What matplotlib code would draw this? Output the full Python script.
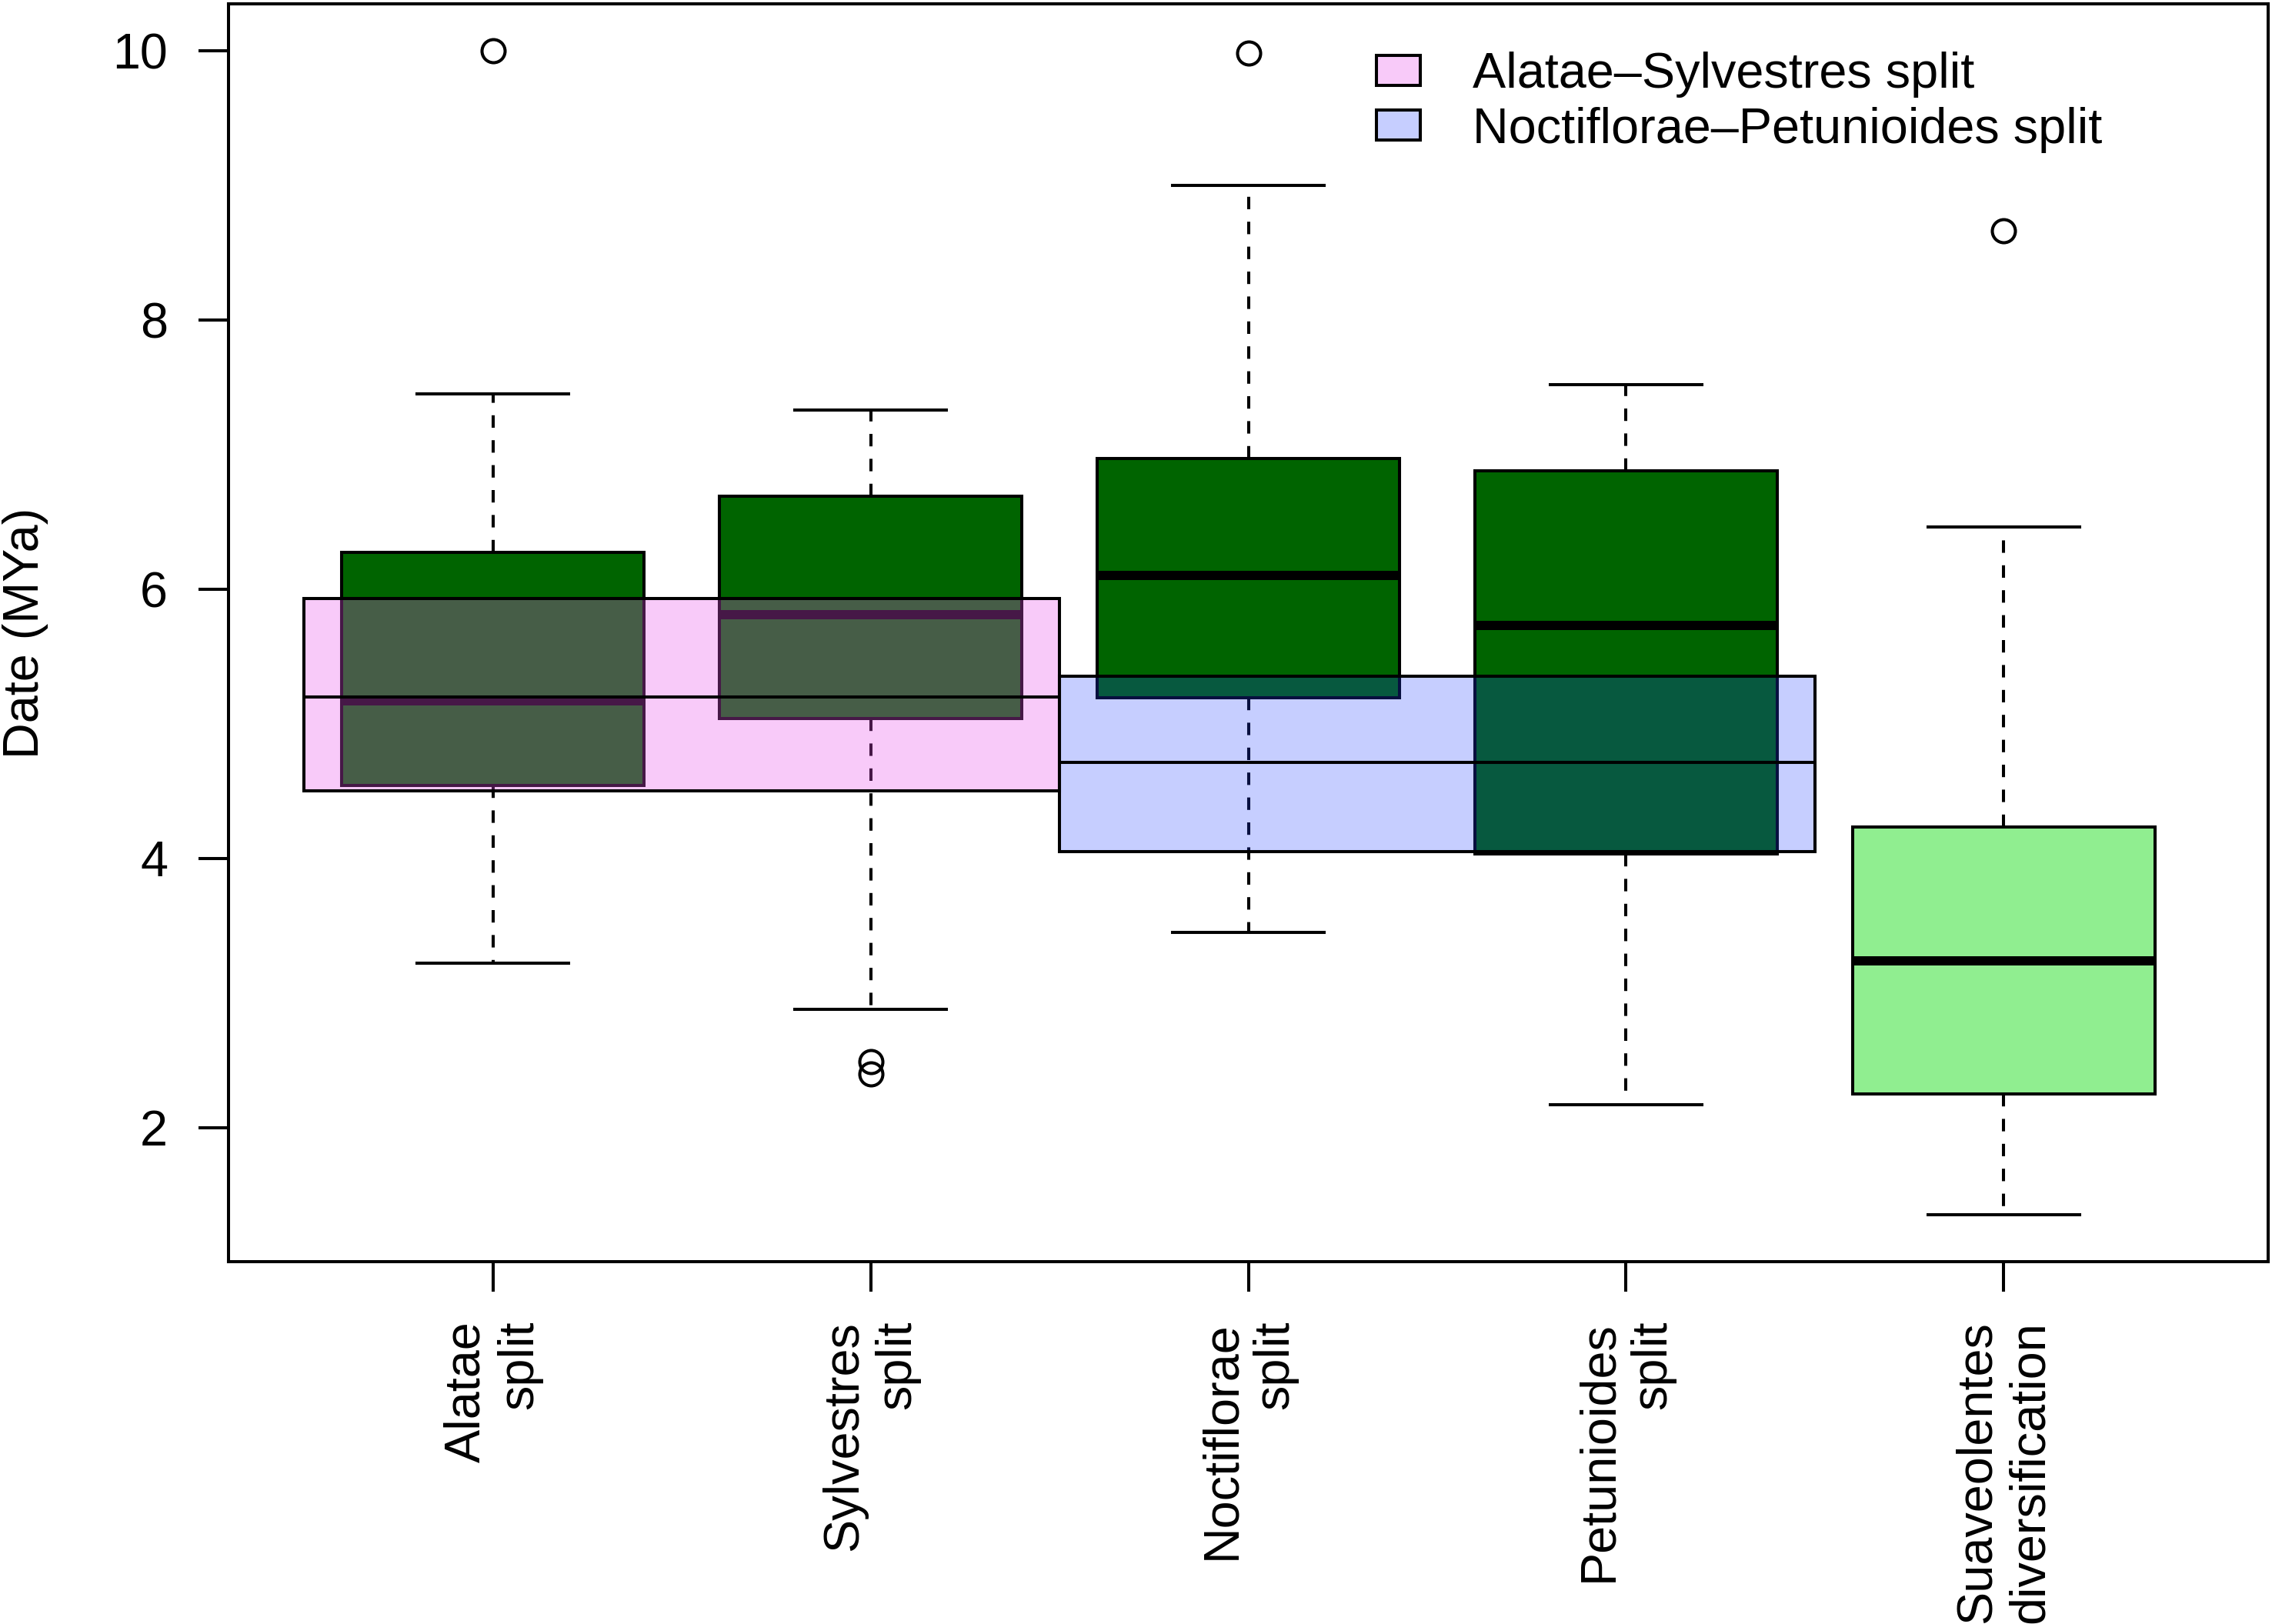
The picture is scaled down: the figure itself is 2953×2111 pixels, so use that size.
import matplotlib
matplotlib.use("Agg")
import matplotlib.pyplot as plt
from matplotlib.patches import Rectangle, Patch

# ---------------- data ----------------
categories = ["Alatae\nsplit", "Sylvestres\nsplit", "Noctiflorae\nsplit",
              "Petunioides\nsplit", "Suaveolentes\ndiversification"]
whisker_low = [3.22, 2.88, 3.45, 2.17, 1.35]
q1 = [4.54, 5.04, 5.19, 4.03, 2.25]
medians = [5.17, 5.81, 6.10, 5.73, 3.24]
q3 = [6.27, 6.69, 6.97, 6.88, 4.23]
whisker_high = [7.45, 7.33, 9.00, 7.52, 6.46]
outliers = [[10.0], [2.49, 2.40], [9.98], [], [8.66]]
box_colors = ["darkgreen", "darkgreen", "darkgreen", "darkgreen", "lightgreen"]

split_labels = ["Alatae\u2013Sylvestres split", "Noctiflorae\u2013Petunioides split"]
split_first = [1, 3]     # first category covered
split_last = [2, 4]      # last category covered
split_low = [4.50, 4.05]
split_mid = [5.20, 4.71]
split_high = [5.93, 5.35]
split_colors = [(235/255, 80/255, 238/255, 0.30), (30/255, 60/255, 255/255, 0.25)]

yticks = [2, 4, 6, 8, 10]
ylabel = "Date (MYa)"

# ---------------- style ----------------
plt.rcParams["font.family"] = ["Liberation Sans", "DejaVu Sans"]
W, H, DPI = 2953, 2111, 300
PX = 72 / DPI            # points per pixel
FS = 64.8 * PX           # font size
LW = 4.05 * PX           # R lwd=1
MLW = 12.0 * PX          # R lwd=3

fig = plt.figure(figsize=(W / DPI, H / DPI), dpi=DPI)
ax = fig.add_axes([297 / W, 1 - 1640 / H, (2948 - 297) / W, (1640 - 5) / H])

positions = list(range(1, len(categories) + 1))
stats = []
for i, cat in enumerate(categories):
    stats.append(dict(whislo=whisker_low[i], q1=q1[i], med=medians[i], q3=q3[i],
                      whishi=whisker_high[i], fliers=outliers[i], label=cat))

bp = ax.bxp(stats, positions=positions, widths=0.8, capwidths=0.4,
            patch_artist=True, showfliers=True,
            boxprops=dict(edgecolor="black", linewidth=LW),
            whiskerprops=dict(color="black", linewidth=LW, linestyle=(0, (4, 4))),
            capprops=dict(color="black", linewidth=LW),
            medianprops=dict(color="black", linewidth=MLW, solid_capstyle="butt"),
            flierprops=dict(marker="o", markerfacecolor="none", markeredgecolor="black",
                            markersize=30 * PX, markeredgewidth=LW, linestyle="none"))
for patch, c in zip(bp["boxes"], box_colors):
    patch.set_facecolor(c)

# translucent split-date bands on top of the boxes
handles = []
for lab, f, l, lo, mid, hi, col in zip(split_labels, split_first, split_last,
                                        split_low, split_mid, split_high, split_colors):
    x0, x1 = f - 0.5, l + 0.5
    ax.add_patch(Rectangle((x0, lo), x1 - x0, hi - lo, facecolor=col,
                           edgecolor="black", linewidth=LW, zorder=3))
    ax.hlines(mid, x0, x1, colors="black", linewidth=LW, zorder=3.1)
    handles.append(Patch(facecolor=col, edgecolor="black", linewidth=LW))

# axis limits like R (4% extension)
all_vals = whisker_low + whisker_high + [v for o in outliers for v in o]
lo_v, hi_v = min(all_vals), max(all_vals)
pad = 0.04 * (hi_v - lo_v)
ax.set_ylim(lo_v - pad, hi_v + pad)
n = len(categories)
ax.set_xlim(0.5 - 0.04 * n, n + 0.5 + 0.04 * n)

ax.set_yticks(yticks)
ax.set_yticklabels([str(t) for t in yticks])
ax.set_xticks(positions)
ax.set_xticklabels(categories, rotation=90, ha="center", va="top")
for t in ax.get_xticklabels():
    t.set_multialignment("right")

ax.tick_params(axis="both", direction="out", length=39 * PX, width=LW,
               labelsize=FS, colors="black")
ax.tick_params(axis="y", pad=40 * PX)
ax.tick_params(axis="x", pad=38 * PX)
for s in ax.spines.values():
    s.set_linewidth(LW)
    s.set_zorder(5)

fig.text(50 / W, 1 - 822.5 / H, ylabel, rotation=90, rotation_mode="anchor",
         ha="center", va="baseline", fontsize=FS)

ax.legend(handles, split_labels, loc="center left",
          bbox_to_anchor=(1789 / W, 1 - 133 / H), bbox_transform=fig.transFigure,
          frameon=False, fontsize=FS, handlelength=57 / 64.8, handleheight=36 / 64.8,
          handletextpad=68 / 64.8, labelspacing=0.17, borderpad=0, borderaxespad=0)

fig.savefig("out.png", dpi=DPI)
